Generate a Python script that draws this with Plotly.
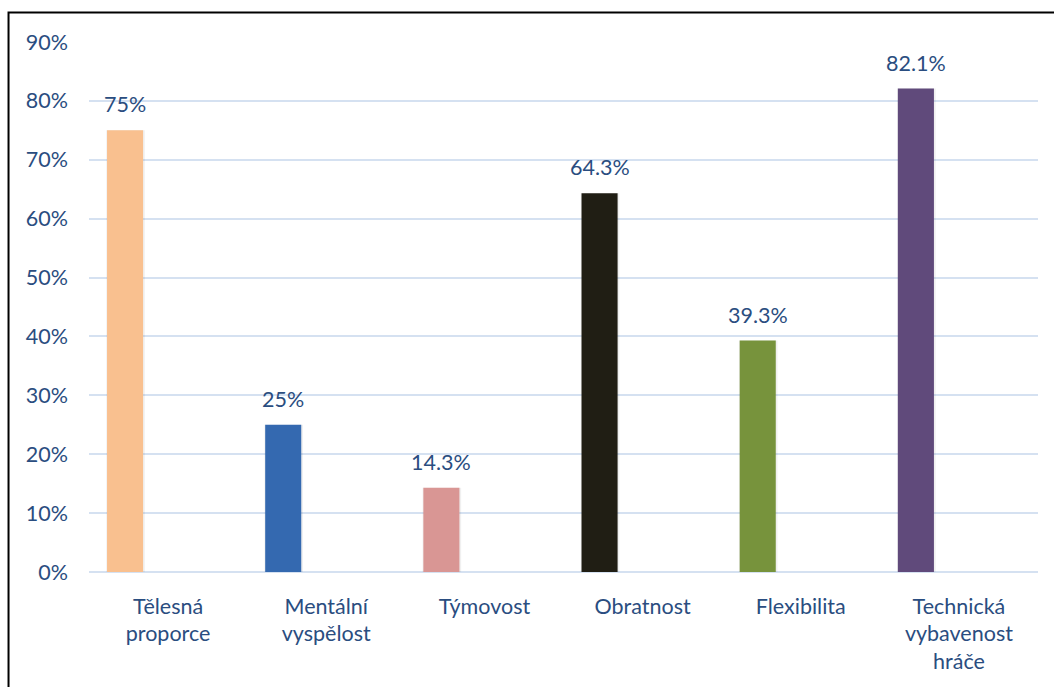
import plotly.graph_objects as go

# Kategorie a podíly odpovědí
categories = ["Tělesná<br>proporce", "Mentální<br>vyspělost", "Týmovost",
              "Obratnost", "Flexibilita", "Technická<br>vybavenost<br>hráče"]
values = [0.75, 0.25, 0.143, 0.643, 0.393, 0.821]
labels = ["75%", "25%", "14.3%", "64.3%", "39.3%", "82.1%"]
colors = ["#F9C08F", "#3469B0", "#D99694", "#201E14", "#77933C", "#604A7B"]
y_ticks = [0, 0.1, 0.2, 0.3, 0.4, 0.5, 0.6, 0.7, 0.8, 0.9]

TEXT = "#2A4D80"
FONT = "Lato"
FS = 21.5
BAR_W = 0.228
BAR_OFF = -0.386          # left edge of each bar relative to its category centre
BAR_MID = BAR_OFF + BAR_W / 2

fig = go.Figure()

# soft drop shadow around each bar
fig.add_trace(go.Bar(
    x=categories, y=values, width=BAR_W + 0.016, offset=BAR_OFF - 0.005,
    marker=dict(color="rgba(0,0,0,0.06)", line=dict(width=0)),
    hoverinfo="skip", showlegend=False,
))
fig.add_trace(go.Bar(
    x=categories, y=values, width=BAR_W, offset=BAR_OFF,
    marker=dict(color=colors, line=dict(width=0)),
    showlegend=False,
))

for i, (v, t) in enumerate(zip(values, labels)):
    fig.add_annotation(
        x=i + BAR_MID, y=v, text=t, showarrow=False,
        yanchor="bottom", yshift=11,
        font=dict(family=FONT, size=FS, color=TEXT),
    )

# outer frame
fig.add_shape(
    type="rect", xref="paper", yref="paper",
    x0=-0.0848, x1=1.03, y0=-0.4, y1=1.0557,
    line=dict(color="#000000", width=2), layer="above",
)

fig.update_layout(
    width=1054, height=687,
    margin=dict(l=89, r=16, t=42, b=115),
    paper_bgcolor="white", plot_bgcolor="white",
    barmode="overlay",
    font=dict(family=FONT, size=FS, color=TEXT),
    xaxis=dict(
        type="category", showgrid=False, showline=False, zeroline=False,
        ticks="", tickfont=dict(family=FONT, size=FS, color=TEXT),
        ticklabelstandoff=19, range=[-0.5, 5.5],
    ),
    yaxis=dict(
        range=[0, 0.9], tickvals=y_ticks, tickformat=".0%",
        showgrid=True, gridcolor="#D5E1F1", gridwidth=2,
        zeroline=True, zerolinecolor="#D5E1F1", zerolinewidth=2,
        showline=False, ticks="", ticklabelstandoff=20,
        tickfont=dict(family=FONT, size=FS, color=TEXT),
    ),
)

fig.write_html("out.html")
